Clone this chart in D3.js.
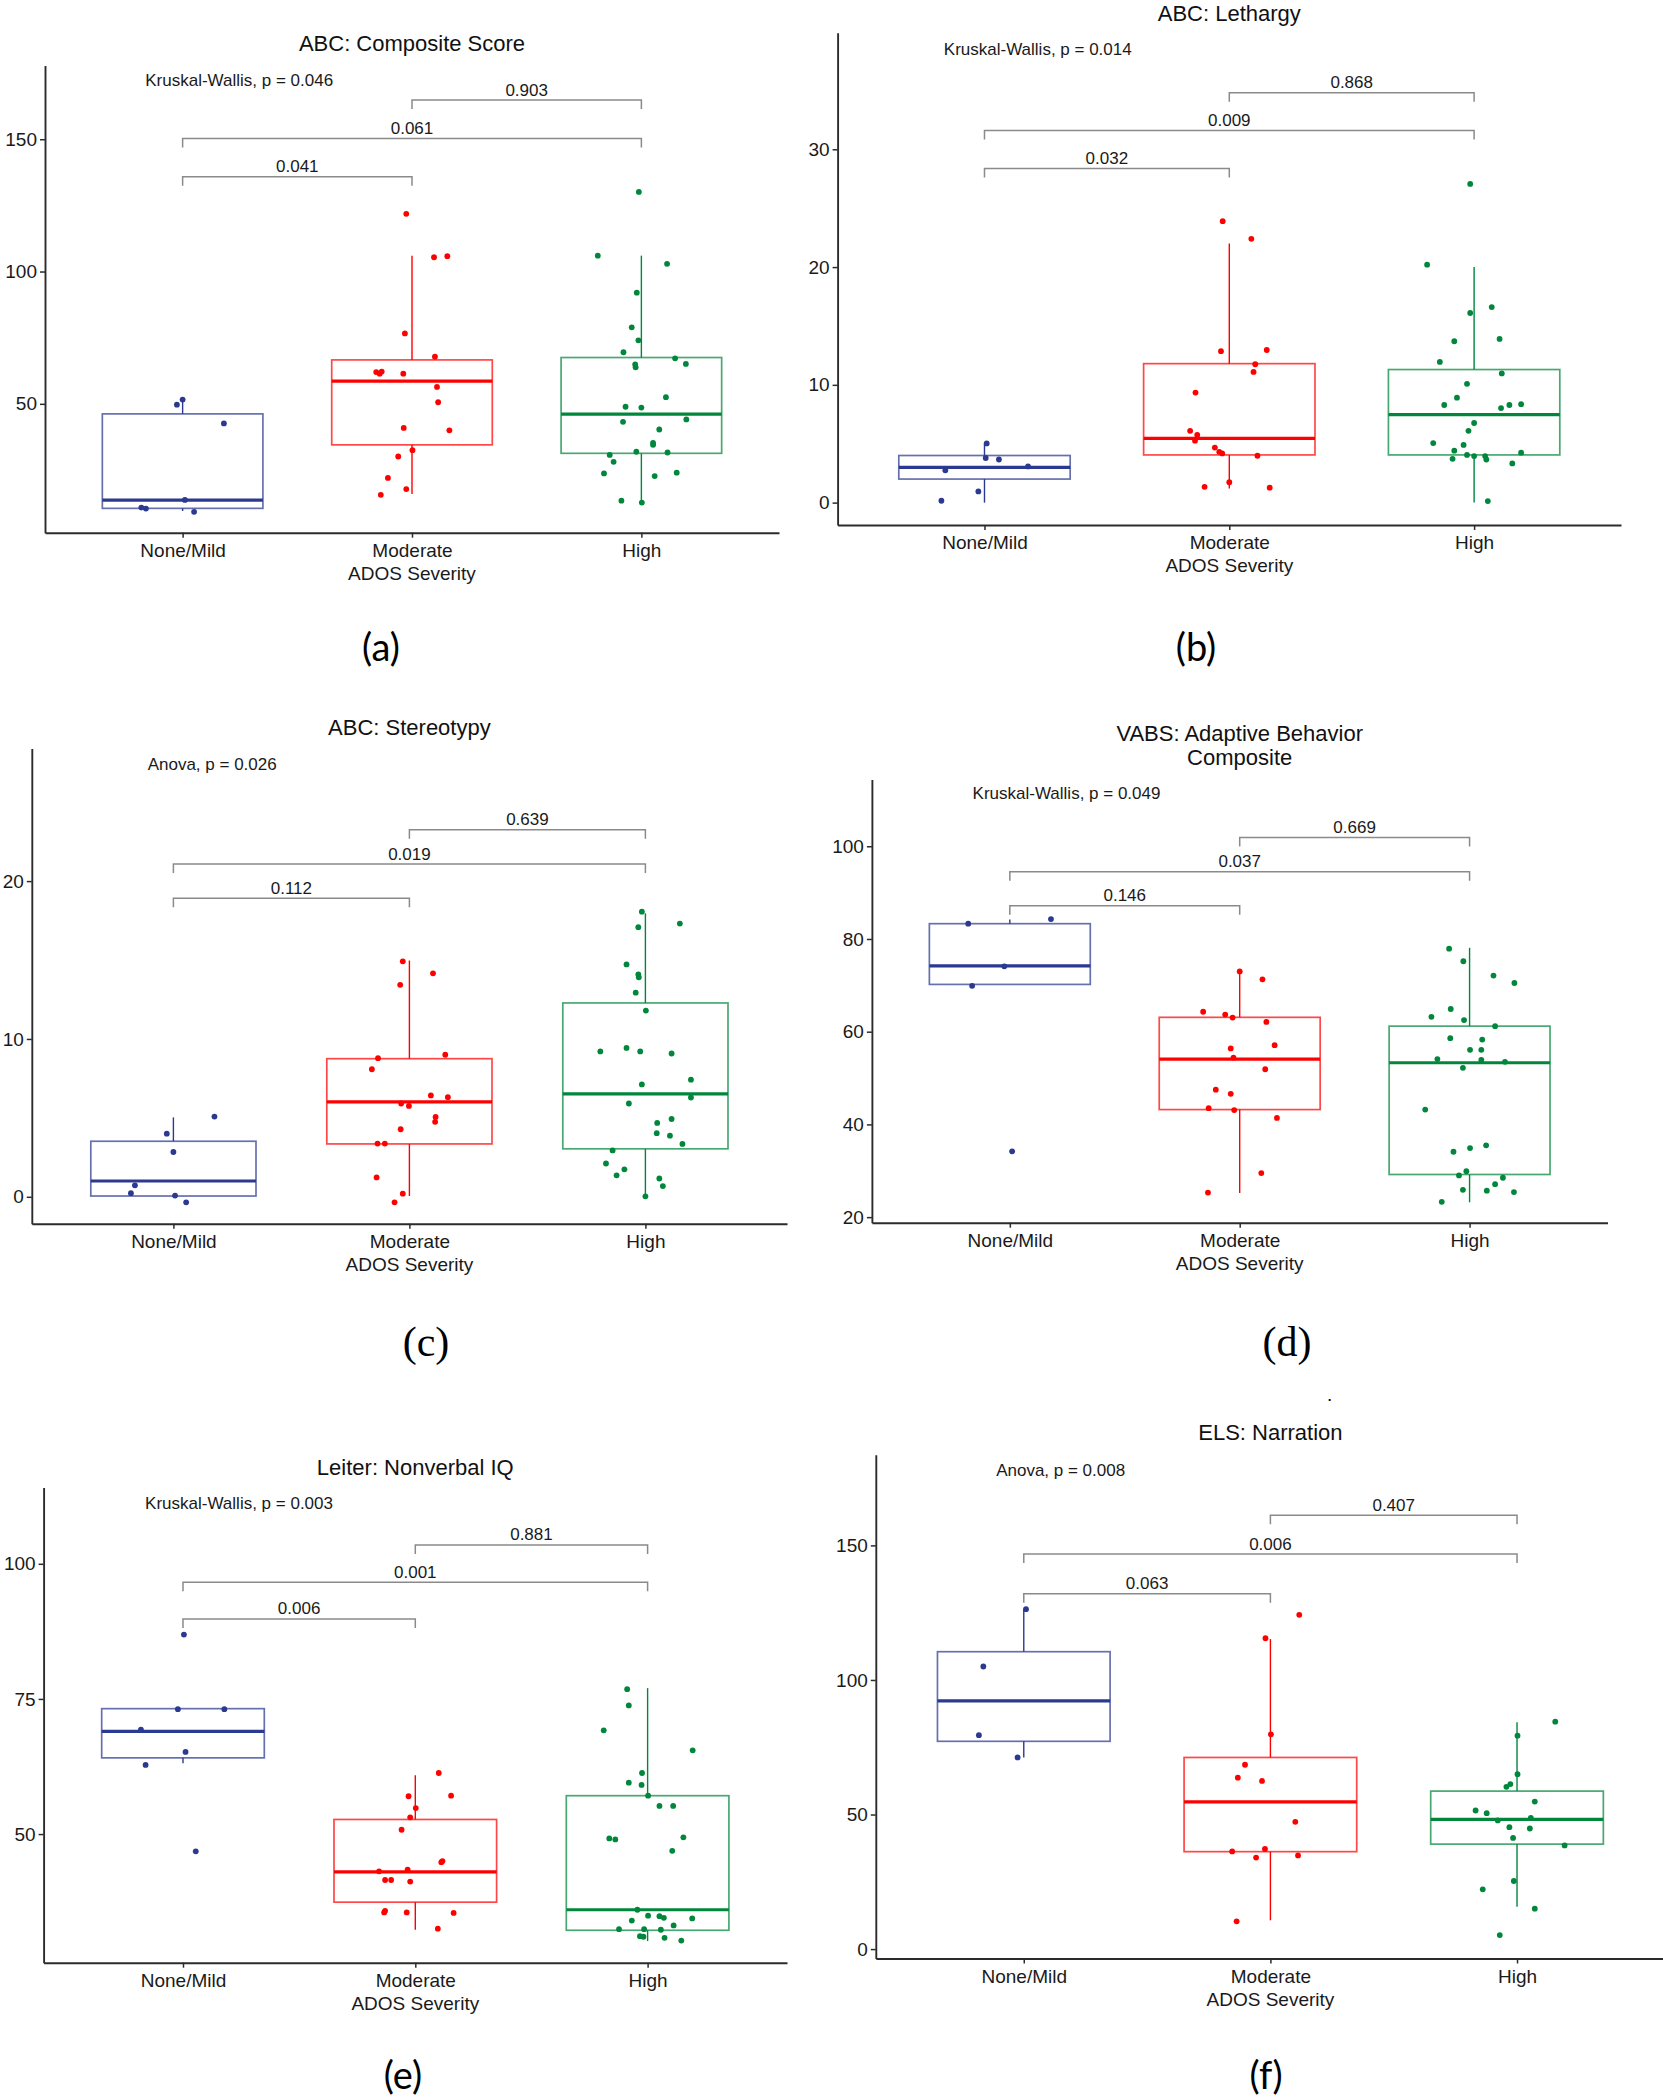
<!DOCTYPE html>
<html>
<head>
<meta charset="utf-8">
<script src="https://cdn.jsdelivr.net/npm/d3@7"></script>
<style>
  html, body { margin: 0; padding: 0; background: #ffffff; }
  svg { display: block; }
  text { font-family: "Liberation Sans", Arial, sans-serif; }
</style>
</head>
<body>
<svg id="chart" width="1663" height="2100"></svg>
<script>
// ---------------- DATA ----------------
const groups = ["None/Mild", "Moderate", "High"];
const xTitle = "ADOS Severity";
const pairs = [[0, 1], [0, 2], [1, 2]];

// (a) ABC: Composite Score
const aTitle = ["ABC: Composite Score"];
const aTest = "Kruskal-Wallis, p = 0.046";
const aPvals = ["0.041", "0.061", "0.903"];
const aBracketY = [135.8, 150.3, 164.8];
const aYTicks = [50, 100, 150];
const aYDomain = [1.3, 177.9];
const aNone = [51.6, 49.7, 42.6, 13.7, 10.8, 10.4, 9.2];
const aNoneJit = [0, -0.025, 0.18, 0.01, -0.18, -0.16, 0.05];
const aMod = [121.8, 105.4, 105.8, 76.6, 67.8, 62, 62.2, 61.4, 61.4, 56.4, 50.6, 40.9, 40, 32.5, 30.1, 22, 17.8, 15.6];
const aModJit = [-0.025, 0.096, 0.154, -0.031, 0.1, -0.156, -0.132, -0.141, -0.038, 0.109, 0.114, -0.036, 0.163, 0.002, -0.06, -0.105, -0.025, -0.136];
const aHigh = [130.1, 106, 102.9, 92, 78.9, 74, 69.5, 67.2, 65.1, 64.9, 63.8, 52.5, 48.9, 48.6, 44.1, 43.2, 40.3, 35.2, 34.5, 30.7, 31.9, 31.6, 28.1, 23.7, 24, 22.7, 13.4, 12.7];
const aHighJit = [-0.011, -0.19, 0.112, -0.02, -0.042, -0.013, -0.078, 0.147, 0.194, -0.027, -0.025, 0.107, -0.069, 0, 0.196, -0.08, 0.078, 0.051, 0.051, -0.138, -0.022, 0.114, -0.121, -0.163, 0.154, 0.058, -0.087, 0.002];
// box stats: [whisker low, q1, median, q3, whisker high]
const aBox = [[9.5, 10.5, 13.6, 46.2, 51.5], [15.9, 34.5, 58.6, 66.6, 106], [12.3, 31.3, 46.1, 67.5, 106]];

// (b) ABC: Lethargy
const bTitle = ["ABC: Lethargy"];
const bTest = "Kruskal-Wallis, p = 0.014";
const bPvals = ["0.032", "0.009", "0.868"];
const bBracketY = [28.37, 31.6, 34.8];
const bYTicks = [0, 10, 20, 30];
const bYDomain = [-1.9, 39.9];
const bNone = [5.03, 3.79, 3.66, 3.07, 2.74, 0.95, 0.16];
const bNoneJit = [0.009, 0.005, 0.059, 0.178, -0.16, -0.025, -0.176];
const bMod = [23.9, 22.4, 12.86, 12.96, 11.75, 11.1, 9.34, 6.1, 5.75, 5.26, 4.67, 4.31, 4.18, 3.98, 1.73, 1.34, 1.27];
const bModJit = [-0.027, 0.09, -0.034, 0.153, 0.106, 0.099, -0.138, -0.16, -0.131, -0.14, -0.059, -0.041, -0.029, 0.115, 0, -0.101, 0.165];
const bHigh = [27.06, 20.2, 16.6, 16.1, 13.9, 13.7, 11.95, 10.97, 10.09, 8.91, 8.29, 8.36, 8.29, 8.03, 6.76, 6.1, 5.06, 4.9, 4.41, 4.24, 4.05, 3.95, 3.95, 3.72, 3.66, 3.33, 0.13];
const bHighJit = [-0.016, -0.192, 0.072, -0.016, 0.104, -0.081, -0.14, 0.113, -0.029, -0.07, -0.122, 0.192, 0.144, 0.11, 0, -0.023, -0.167, -0.043, -0.081, 0.192, -0.029, 0, 0.045, -0.088, 0.05, 0.156, 0.056];
const bBox = [[0, 2.0, 3.0, 4.0, 5.0], [1.2, 4.05, 5.45, 11.8, 22.0], [0, 4.05, 7.48, 11.3, 20.0]];

// (c) ABC: Stereotypy
const cTitle = ["ABC: Stereotypy"];
const cTest = "Anova, p = 0.026";
const cPvals = ["0.112", "0.019", "0.639"];
const cBracketY = [18.92, 21.08, 23.25];
const cYTicks = [0, 10, 20];
const cYDomain = [-1.71, 28.4];
const cNone = [5.08, 4.0, 2.84, 0.73, 0.23, 0.08, -0.35];
const cNoneJit = [0.174, -0.028, 0, -0.163, -0.18, 0.007, 0.054];
const cMod = [14.92, 14.16, 13.43, 9.0, 8.78, 8.08, 6.42, 6.31, 5.91, 5.76, 5.06, 4.75, 4.28, 3.37, 3.37, 1.23, 0.2, -0.35];
const cModJit = [-0.028, 0.1, -0.039, 0.152, -0.133, -0.159, 0.091, 0.163, -0.035, -0.002, 0.111, 0.109, -0.037, -0.135, -0.104, -0.139, -0.028, -0.063];
const cHigh = [18.06, 17.31, 17.08, 14.72, 14.09, 13.91, 12.93, 11.8, 9.43, 9.21, 9.21, 9.08, 7.42, 7.12, 5.91, 6.29, 4.93, 4.68, 4.03, 3.87, 3.35, 2.94, 2.11, 1.74, 1.36, 1.16, 0.68, 0.03];
const cHighJit = [-0.015, 0.146, -0.03, -0.08, -0.03, -0.028, -0.041, 0.002, -0.08, -0.191, -0.022, 0.111, 0.193, -0.015, -0.07, 0.193, 0.111, 0.05, 0.048, 0.104, 0.157, -0.139, -0.167, -0.089, -0.122, 0.059, 0.074, 0];
const cBox = [[0, 0.05, 1.0, 3.52, 5.03], [0.05, 3.35, 6.01, 8.75, 14.97], [0, 3.04, 6.52, 12.28, 17.96]];

// (d) VABS: Adaptive Behavior Composite
const dTitle = ["VABS: Adaptive Behavior", "Composite"];
const dTest = "Kruskal-Wallis, p = 0.049";
const dPvals = ["0.146", "0.037", "0.669"];
const dBracketY = [87.15, 94.5, 101.9];
const dYTicks = [20, 40, 60, 80, 100];
const dYDomain = [18.8, 114.4];
const dNone = [83.3, 84.3, 74.1, 69.9, 34.2];
const dNoneJit = [-0.181, 0.179, -0.024, -0.164, 0.01];
const dMod = [73.0, 71.3, 64.3, 63.7, 63.05, 62.1, 56.4, 57.1, 54.4, 51.9, 47.5, 46.6, 43.5, 43.1, 41.4, 29.5, 25.3];
const dModJit = [0, 0.099, -0.159, -0.063, -0.031, 0.116, -0.039, 0.152, -0.027, 0.111, -0.104, -0.039, -0.135, -0.024, 0.162, 0.094, -0.138];
const dHigh = [77.9, 75.2, 72.1, 70.5, 64.9, 63.2, 62.5, 61.2, 58.6, 58.3, 56.1, 56.1, 54.1, 53.9, 53.5, 52.2, 43.2, 34.1, 34.9, 35.5, 29.0, 29.9, 28.5, 27.1, 25.9, 25.7, 25.4, 23.3];
const dHighJit = [-0.089, -0.027, 0.104, 0.195, -0.082, -0.166, -0.024, 0.111, -0.084, 0.055, 0.002, 0.051, -0.14, 0.051, 0.154, -0.029, -0.193, -0.07, 0.002, 0.072, -0.046, -0.014, 0.145, 0.111, -0.029, 0.075, 0.193, -0.121];
const dBox = [[70.2, 70.2, 74.2, 83.3, 84.2], [25.2, 43.2, 54.1, 63.1, 73.0], [23.2, 29.2, 53.3, 61.2, 78.1]];

// (e) Leiter: Nonverbal IQ
const eTitle = ["Leiter: Nonverbal IQ"];
const eTest = "Kruskal-Wallis, p = 0.003";
const ePvals = ["0.006", "0.001", "0.881"];
const eBracketY = [89.8, 96.6, 103.5];
const eYTicks = [50, 75, 100];
const eYDomain = [26.2, 114.1];
const eNone = [86.9, 73.1, 73.1, 69.3, 65.2, 62.8, 46.8];
const eNoneJit = [0.004, -0.022, 0.178, -0.181, 0.011, -0.161, 0.055];
const eMod = [61.3, 57.0, 57.1, 54.8, 53.1, 50.8, 45.0, 44.8, 43.1, 43.4, 41.5, 41.5, 41.2, 35.8, 35.5, 35.5, 35.4, 32.5];
const eModJit = [0.101, -0.029, 0.154, 0.002, -0.022, -0.059, 0.117, 0.112, -0.156, -0.033, -0.13, -0.104, -0.022, -0.13, -0.134, -0.037, 0.165, 0.097];
const eHigh = [76.8, 73.8, 69.2, 65.5, 61.3, 59.5, 59.1, 57.1, 55.2, 55.2, 49.4, 49.2, 49.0, 46.9, 36.0, 34.9, 34.8, 34.5, 34.4, 34.0, 33.1, 32.4, 32.4, 32.3, 31.1, 31.0, 30.8, 30.3];
const eHighJit = [-0.088, -0.081, -0.189, 0.194, -0.024, -0.081, -0.026, 0.002, 0.051, 0.11, 0.154, -0.165, -0.139, 0.106, -0.044, 0.002, 0.051, 0.07, 0.192, -0.068, 0.112, -0.123, -0.015, 0.057, -0.033, -0.018, 0.073, 0.145];
const eBox = [[63.1, 64.1, 69.0, 73.2, 73.2], [32.3, 37.4, 43.0, 52.7, 60.9], [30.2, 32.2, 36.0, 57.1, 77.0]];

// (f) ELS: Narration
const fTitle = ["ELS: Narration"];
const fTest = "Anova, p = 0.008";
const fPvals = ["0.063", "0.006", "0.407"];
const fBracketY = [132, 146.8, 161.2];
const fYTicks = [0, 50, 100, 150];
const fYDomain = [-3.5, 183.7];
const fNone = [126.3, 105, 79.5, 71.2];
const fNoneJit = [0.009, -0.164, -0.182, -0.025];
const fMod = [124.2, 115.5, 79.8, 68.5, 63.7, 62.5, 47.3, 36.3, 37.2, 34.0, 34.8, 10.3];
const fModJit = [0.117, -0.02, 0.002, -0.103, -0.132, -0.034, 0.101, -0.155, -0.022, -0.058, 0.112, -0.137];
const fHigh = [84.5, 79.3, 65.0, 60.3, 61.3, 54.8, 51.5, 50.5, 47.8, 48.7, 45.3, 44.8, 41.3, 38.5, 25.3, 22.2, 15.0, 5.2];
const fHighJit = [0.155, 0.002, 0.002, -0.043, -0.027, 0.072, -0.168, -0.123, -0.078, 0.056, -0.031, 0.052, -0.016, 0.193, -0.013, -0.139, 0.072, -0.07];
const fBox = [[71.2, 77.2, 92.2, 110.5, 126.3], [10.7, 36.2, 54.7, 71.2, 115.2], [15.7, 39.0, 48.2, 58.7, 84.3]];

const subLabels = ["(a)", "(b)", "(c)", "(d)", "(e)", "(f)"];

// ---------------- STYLE / LAYOUT ----------------
const colors = ["#2b3990", "#ff0000", "#00873c"];

const panels = [
  { title: aTitle, test: aTest, pvals: aPvals, by: aBracketY, ticks: aYTicks, dom: aYDomain,
    vals: [aNone, aMod, aHigh], jit: [aNoneJit, aModJit, aHighJit], box: aBox,
    L: 45, R: 779, T: 65.4, B: 532.7, titleY: 51, testPos: [0.837, 172.1],
    sub: subLabels[0], subX: 381, subY: 646, subFont: "Lato, 'Open Sans', sans-serif", subSize: 38 },
  { title: bTitle, test: bTest, pvals: bPvals, by: bBracketY, ticks: bYTicks, dom: bYDomain,
    vals: [bNone, bMod, bHigh], jit: [bNoneJit, bModJit, bHighJit], box: bBox,
    L: 837.6, R: 1621, T: 32.7, B: 525, titleY: 21, testPos: [0.834, 38.5],
    sub: subLabels[1], subX: 1196, subY: 646, subFont: "Lato, 'Open Sans', sans-serif", subSize: 38 },
  { title: cTitle, test: cTest, pvals: cPvals, by: cBracketY, ticks: cYTicks, dom: cYDomain,
    vals: [cNone, cMod, cHigh], jit: [cNoneJit, cModJit, cHighJit], box: cBox,
    L: 31.8, R: 787, T: 748.5, B: 1223.8, titleY: 735, testPos: [0.891, 27.4],
    sub: subLabels[2], subX: 426, subY: 1342, subFont: "'Liberation Serif', 'DejaVu Serif', serif", subSize: 42 },
  { title: dTitle, test: dTest, pvals: dPvals, by: dBracketY, ticks: dYTicks, dom: dYDomain,
    vals: [dNone, dMod, dHigh], jit: [dNoneJit, dModJit, dHighJit], box: dBox,
    L: 871.9, R: 1607.5, T: 779.5, B: 1222.7, titleY: 740.5, testPos: [0.838, 111.3],
    sub: subLabels[3], subX: 1287, subY: 1342, subFont: "'Liberation Serif', 'DejaVu Serif', serif", subSize: 42 },
  { title: eTitle, test: eTest, pvals: ePvals, by: eBracketY, ticks: eYTicks, dom: eYDomain,
    vals: [eNone, eMod, eHigh], jit: [eNoneJit, eModJit, eHighJit], box: eBox,
    L: 43.6, R: 787, T: 1487.6, B: 1962.7, titleY: 1474.5, testPos: [0.837, 111.1],
    sub: subLabels[4], subX: 403, subY: 2074, subFont: "Lato, 'Open Sans', sans-serif", subSize: 38 },
  { title: fTitle, test: fTest, pvals: fPvals, by: fBracketY, ticks: fYTicks, dom: fYDomain,
    vals: [fNone, fMod, fHigh], jit: [fNoneJit, fModJit, fHighJit], box: fBox,
    L: 875.8, R: 1665, T: 1454.7, B: 1958.5, titleY: 1440.4, testPos: [0.888, 177.7],
    sub: subLabels[5], subX: 1266, subY: 2074, subFont: "Lato, 'Open Sans', sans-serif", subSize: 38 }
];

const svg = d3.select("#chart");
svg.append("rect").attr("width", 1663).attr("height", 2100).attr("fill", "#ffffff");

const BOXW = 0.7;

panels.forEach(p => {
  const g = svg.append("g");
  const x = d3.scalePoint().domain(groups).range([p.L, p.R]).padding(0.6);
  const step = x.step();
  const y = d3.scaleLinear().domain(p.dom).range([p.B, p.T]);

  // title
  const tt = g.append("text")
    .attr("x", (p.L + p.R) / 2).attr("y", p.titleY)
    .attr("text-anchor", "middle").attr("font-size", 22).attr("fill", "#111");
  p.title.forEach((line, i) => {
    tt.append("tspan").attr("x", (p.L + p.R) / 2).attr("dy", i === 0 ? 0 : 24.7).text(line);
  });

  // boxes
  groups.forEach((grp, gi) => {
    const [lo, q1, med, q3, hi] = p.box[gi];
    const cx = x(grp);
    const hw = BOXW * step / 2;
    const col = colors[gi];
    const bg = g.append("g");
    bg.append("line").attr("x1", cx).attr("x2", cx).attr("y1", y(q3)).attr("y2", y(hi))
      .attr("stroke", col).attr("stroke-width", 1.4);
    bg.append("line").attr("x1", cx).attr("x2", cx).attr("y1", y(q1)).attr("y2", y(lo))
      .attr("stroke", col).attr("stroke-width", 1.4);
    bg.append("rect").attr("x", cx - hw).attr("width", 2 * hw)
      .attr("y", y(q3)).attr("height", y(q1) - y(q3))
      .attr("fill", "none").attr("stroke", col).attr("stroke-opacity", 0.72).attr("stroke-width", 1.7);
    bg.append("line").attr("x1", cx - hw).attr("x2", cx + hw).attr("y1", y(med)).attr("y2", y(med))
      .attr("stroke", col).attr("stroke-width", 3.2);
  });

  // jittered points
  groups.forEach((grp, gi) => {
    g.append("g").selectAll("circle")
      .data(p.vals[gi].map((v, i) => ({ v, j: p.jit[gi][i] })))
      .join("circle")
      .attr("cx", d => x(grp) + d.j * step)
      .attr("cy", d => y(d.v))
      .attr("r", 2.9)
      .attr("fill", colors[gi]);
  });

  // brackets
  pairs.forEach((pr, k) => {
    const x1 = x(groups[pr[0]]), x2 = x(groups[pr[1]]), yy = y(p.by[k]);
    g.append("path")
      .attr("d", `M${x1},${yy + 9}V${yy}H${x2}V${yy + 9}`)
      .attr("fill", "none").attr("stroke", "#8a8a8a").attr("stroke-width", 1.5);
    g.append("text").attr("x", (x1 + x2) / 2).attr("y", yy - 4.5)
      .attr("text-anchor", "middle").attr("font-size", 17).attr("fill", "#1a1a1a")
      .text(p.pvals[k]);
  });

  // global test label
  g.append("text")
    .attr("x", x(groups[0]) + (p.testPos[0] - 1) * step)
    .attr("y", y(p.testPos[1]))
    .attr("dominant-baseline", "central")
    .attr("font-size", 17).attr("fill", "#1a1a1a")
    .text(p.test);

  // axes
  const yAxis = d3.axisLeft(y).tickValues(p.ticks).tickSize(5).tickPadding(3).tickSizeOuter(0);
  const ya = g.append("g").attr("transform", `translate(${p.L},0)`).call(yAxis);
  const xAxis = d3.axisBottom(x).tickSize(5).tickPadding(6).tickSizeOuter(0);
  const xa = g.append("g").attr("transform", `translate(0,${p.B})`).call(xAxis);
  [ya, xa].forEach(a => {
    a.select(".domain").attr("stroke", "#2b2b2b").attr("stroke-width", 1.9);
    a.selectAll(".tick line").attr("stroke", "#2b2b2b").attr("stroke-width", 1.5);
    a.selectAll(".tick text").attr("font-size", 19).attr("fill", "#1a1a1a")
      .attr("font-family", "'Liberation Sans', Arial, sans-serif");
  });

  g.append("text").attr("x", x(groups[1])).attr("y", p.B + 47)
    .attr("text-anchor", "middle").attr("font-size", 19).attr("fill", "#1a1a1a")
    .text(xTitle);

  // sub-figure label
  svg.append("text").attr("x", p.subX).attr("y", p.subY)
    .attr("text-anchor", "middle").attr("dominant-baseline", "central")
    .attr("font-size", p.subSize).attr("fill", "#000")
    .style("font-family", p.subFont)
    .text(p.sub);
});

// stray mark visible in the source figure
svg.append("text").attr("x", 1327).attr("y", 1401).attr("font-size", 19).attr("fill", "#000").text(".");
</script>
</body>
</html>
